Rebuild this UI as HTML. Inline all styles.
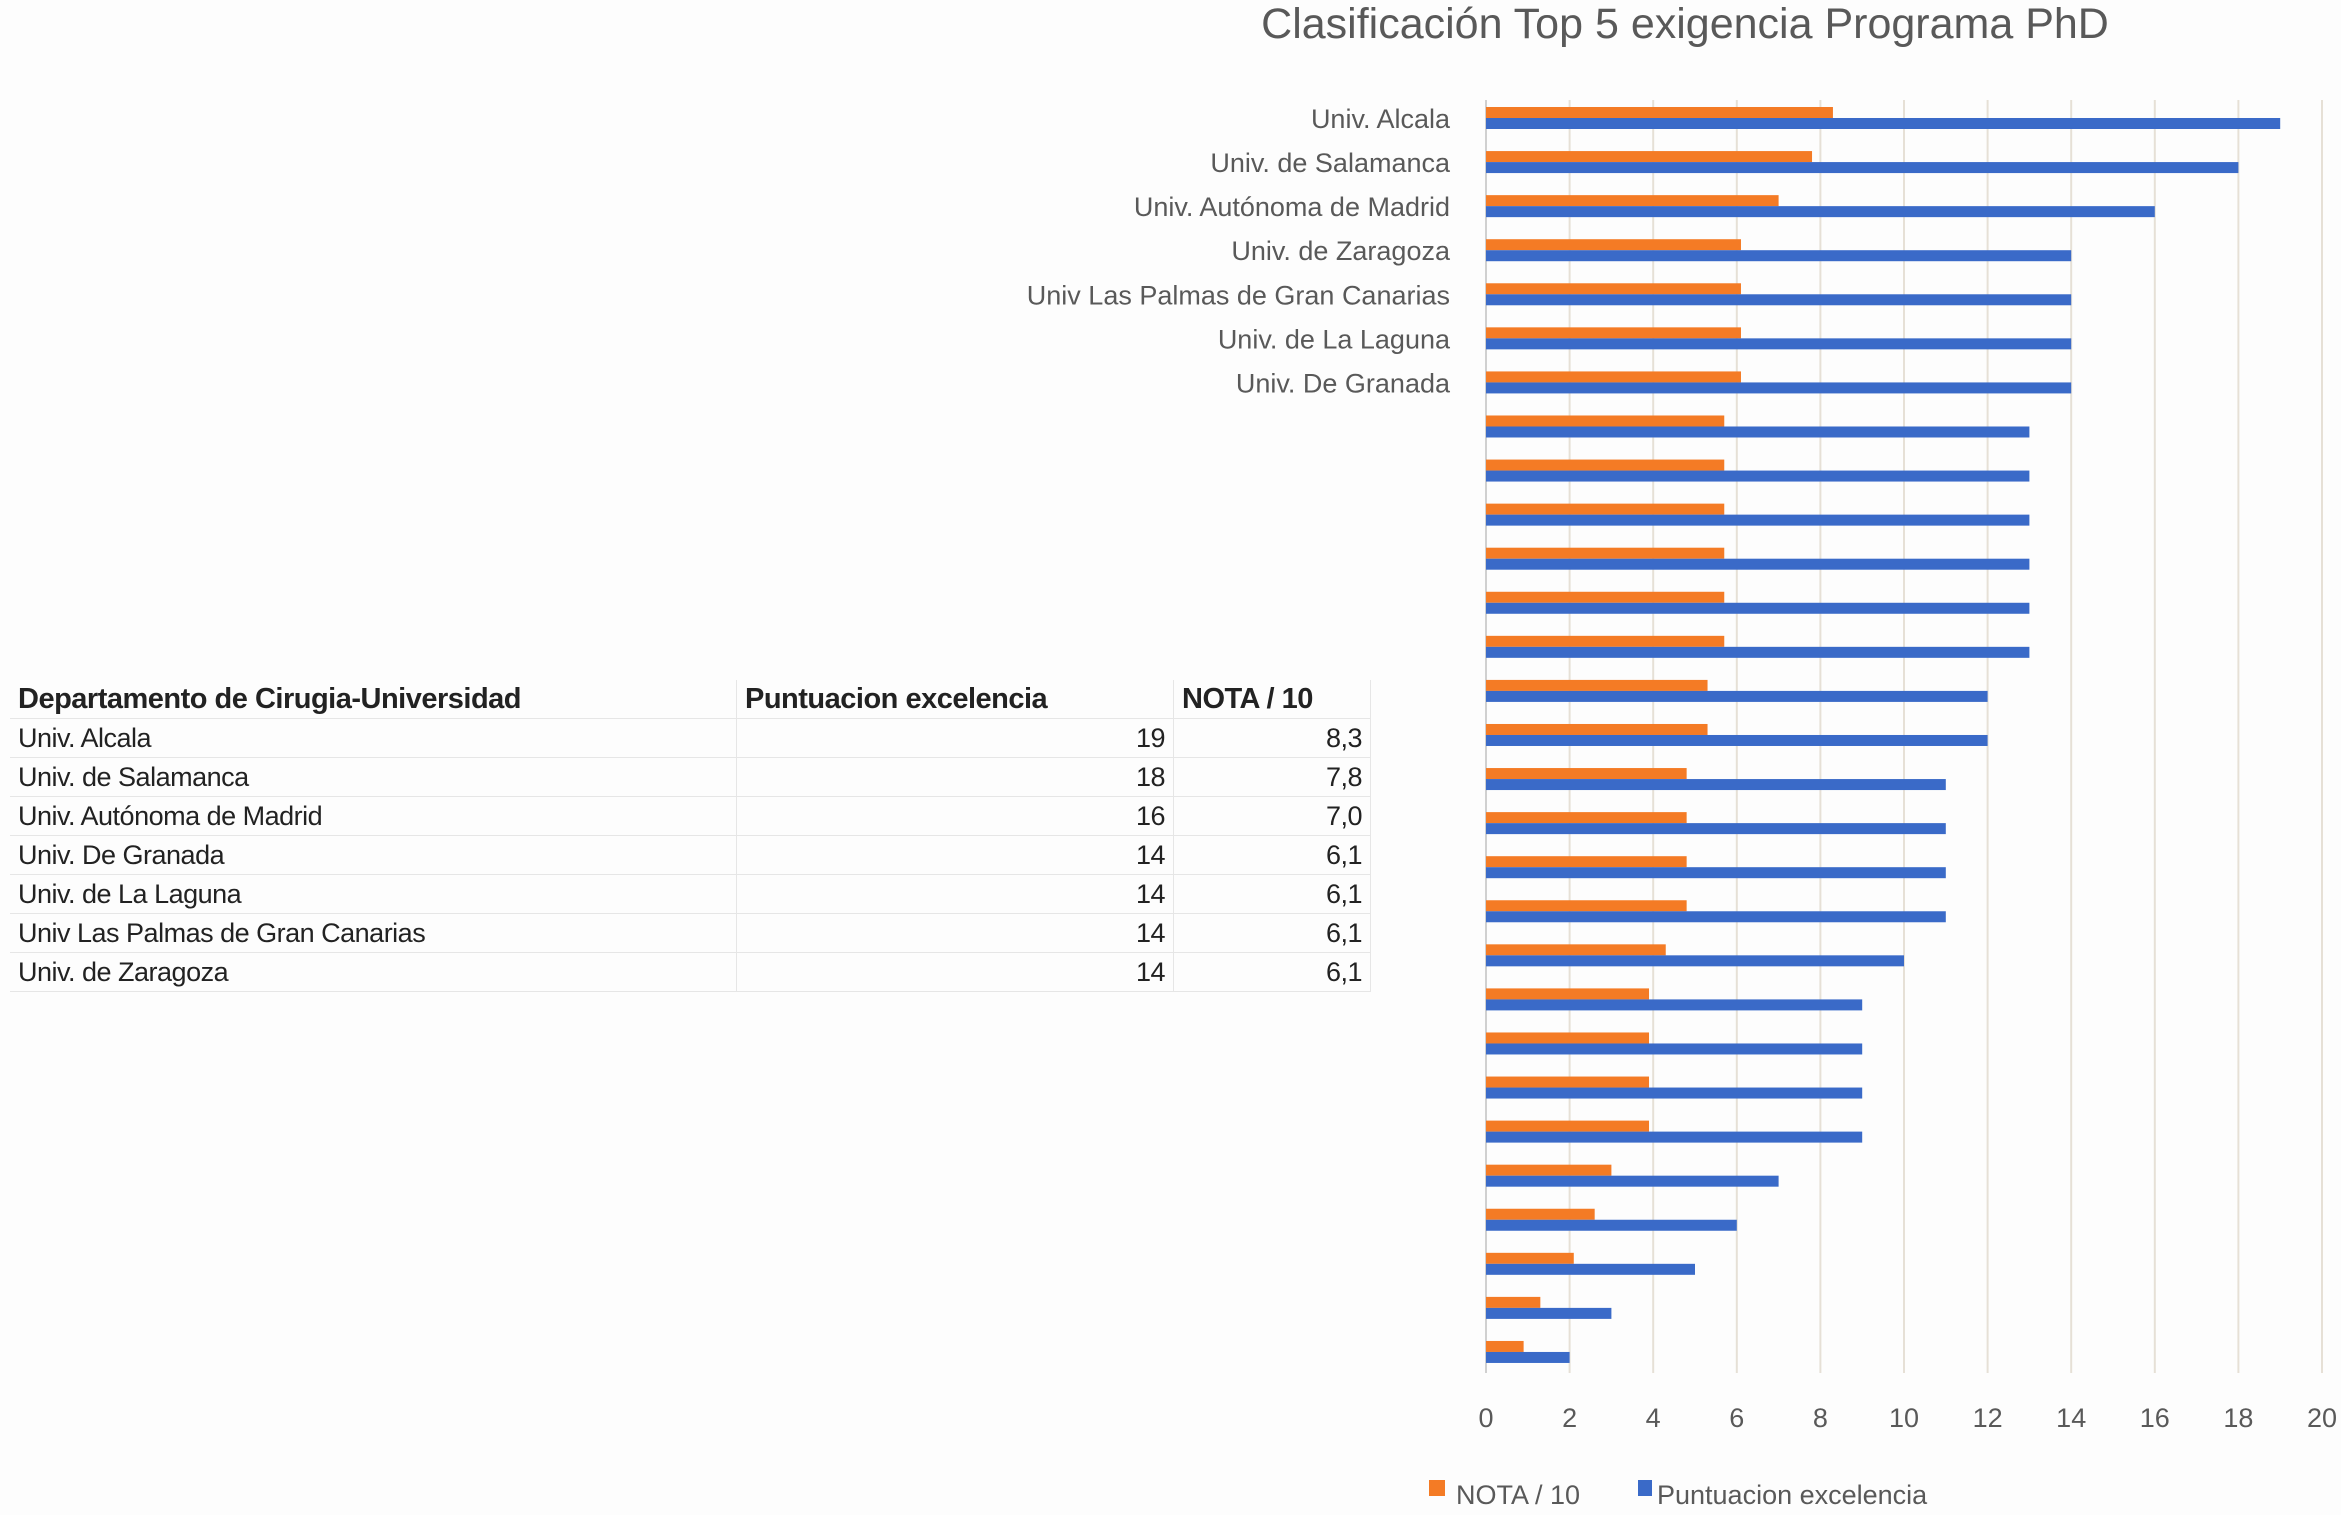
<!DOCTYPE html>
<html><head><meta charset="utf-8"><style>
html,body{margin:0;padding:0;background:#fdfdfd;}
body{width:2341px;height:1515px;overflow:hidden;position:relative;font-family:"Liberation Sans",sans-serif;}
#tbl{position:absolute;left:10px;top:680px;border-collapse:collapse;font-size:27px;color:#222;}
#tbl td{height:38px;padding:0 8px;border-bottom:1.5px solid #e6e6e6;border-right:1.5px solid #e6e6e6;white-space:nowrap;letter-spacing:-0.5px;}
#tbl tr.h td{font-weight:bold;font-size:29px;}
#tbl td.n{text-align:right;}
</style></head><body>
<svg id="chart" width="2341" height="1515" style="position:absolute;left:0;top:0">
<text x="1685" y="38" text-anchor="middle" font-size="43" fill="#595959" font-family="Liberation Sans, sans-serif">Clasificación Top 5 exigencia Programa PhD</text>
<g id="grid"></g><g id="bars"></g><g id="labels"></g><g id="ticks"></g>
<g>
<rect x="1429" y="1480" width="16" height="16" fill="#F47B25"/>
<text x="1456" y="1504" font-size="27" fill="#595959">NOTA / 10</text>
<rect x="1638" y="1480" width="14" height="16" fill="#3A6AC8"/>
<text x="1657" y="1504" font-size="27" fill="#595959">Puntuacion excelencia</text>
</g>
</svg>
<table id="tbl">
<tr class="h"><td style="width:710px">Departamento de Cirugia-Universidad</td><td style="width:420px">Puntuacion excelencia</td><td style="width:180px">NOTA / 10</td></tr>
<tr><td>Univ. Alcala</td><td class="n">19</td><td class="n">8,3</td></tr>
<tr><td>Univ. de Salamanca</td><td class="n">18</td><td class="n">7,8</td></tr>
<tr><td>Univ. Autónoma de Madrid</td><td class="n">16</td><td class="n">7,0</td></tr>
<tr><td>Univ. De Granada</td><td class="n">14</td><td class="n">6,1</td></tr>
<tr><td>Univ. de La Laguna</td><td class="n">14</td><td class="n">6,1</td></tr>
<tr><td>Univ Las Palmas de Gran Canarias</td><td class="n">14</td><td class="n">6,1</td></tr>
<tr><td>Univ. de Zaragoza</td><td class="n">14</td><td class="n">6,1</td></tr>
</table>
<script>
const categories=["Univ. Alcala","Univ. de Salamanca","Univ. Autónoma de Madrid","Univ. de Zaragoza","Univ Las Palmas de Gran Canarias","Univ. de La Laguna","Univ. De Granada","","","","","","","","","","","","","","","","","","","","","",""];
const puntuacion=[19,18,16,14,14,14,14,13,13,13,13,13,13,12,12,11,11,11,11,10,9,9,9,9,7,6,5,3,2];
const nota=[8.3,7.8,7.0,6.1,6.1,6.1,6.1,5.7,5.7,5.7,5.7,5.7,5.7,5.3,5.3,4.8,4.8,4.8,4.8,4.3,3.9,3.9,3.9,3.9,3.0,2.6,2.1,1.3,0.9];
const xTicks=[0,2,4,6,8,10,12,14,16,18,20];
const NS="http://www.w3.org/2000/svg";
const x0=1486,x1=2322,xMax=20;
const xs=v=>x0+(v/xMax)*(x1-x0);
const y0=107,pitch=44.07;
const ys=i=>y0+i*pitch;
function mk(t,a,p){const e=document.createElementNS(NS,t);for(const k in a)e.setAttribute(k,a[k]);p.appendChild(e);return e;}
const grid=document.getElementById('grid'),bars=document.getElementById('bars'),labels=document.getElementById('labels'),ticks=document.getElementById('ticks');
xTicks.forEach(t=>{
 const l=mk('line',{x1:xs(t),x2:xs(t),y1:100,y2:1373,stroke:t===0?'#d0d0d0':'#e6e0d6','stroke-width':2},grid);
 
 
 const tx=mk('text',{x:xs(t),y:1427,'text-anchor':'middle','font-size':27,fill:'#595959'},ticks);
 tx.textContent=t;
 
 
});
categories.forEach((c,i)=>{
 const y=ys(i);
 const o=mk('rect',{x:x0,y:y,width:xs(nota[i])-x0,height:11,fill:'#F47B25'},bars);
 
 
 const b=mk('rect',{x:x0,y:y+11,width:xs(puntuacion[i])-x0,height:11,fill:'#3A6AC8'},bars);
 
 
 if(c){
  const t=mk('text',{x:1450,y:y+21,'text-anchor':'end','font-size':27,fill:'#595959'},labels);
  t.textContent=c;
  
  
 }
});
</script>
</body></html>
